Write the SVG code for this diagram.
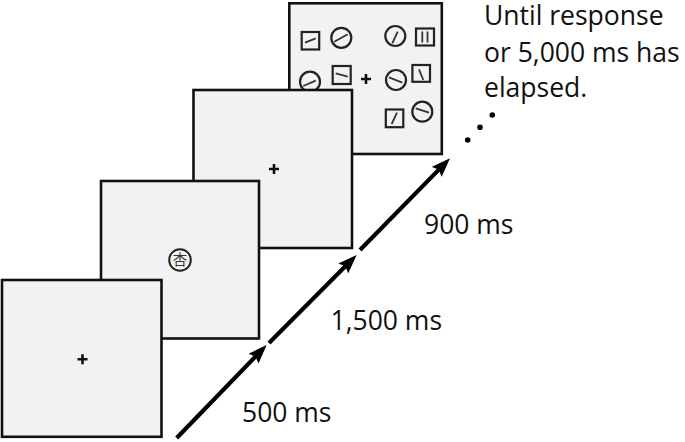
<svg xmlns="http://www.w3.org/2000/svg" width="685" height="442" viewBox="0 0 685 442">
<defs>
<style>
.screen{fill:#f2f2f2;stroke:#111;stroke-width:2.6}
.fix{stroke:#111;stroke-width:2.6;fill:none}
.item{fill:none;stroke:#222;stroke-width:2.2}
.bar{stroke:#333;stroke-width:1.8;fill:none}
.arrow{stroke:#000;stroke-width:4.2;fill:none}
.lbl{font-family:"Open Sans","Liberation Sans",sans-serif;font-size:26.5px;fill:#111}
</style>
<marker id="ah" markerUnits="userSpaceOnUse" viewBox="0 0 20 14" refX="9" refY="7" markerWidth="20" markerHeight="14" orient="auto">
<path d="M0,0 L19,7 L0,14 L3,7 z" fill="#000"/>
</marker>
</defs>
<g id="screen4">
<rect class="screen" x="289.3" y="3.3" width="152.5" height="150.7"/>
<rect class="item" x="301.7" y="32" width="17.5" height="17.5"/><line class="bar" x1="305" y1="42.7" x2="315.7" y2="38.3"/>
<circle class="item" cx="341.3" cy="37.8" r="10"/><line class="bar" x1="334.3" y1="41.7" x2="347.7" y2="34.3"/>
<circle class="item" cx="395.3" cy="36" r="10"/><line class="bar" x1="392.3" y1="43.3" x2="397.7" y2="31.7"/>
<rect class="item" x="416" y="28.5" width="18" height="17"/><line class="bar" x1="422.3" y1="31.5" x2="422.3" y2="42.5"/><line class="bar" x1="427.5" y1="31.5" x2="427.5" y2="42.5"/>
<circle class="item" cx="310" cy="81.7" r="10"/><line class="bar" x1="303.3" y1="86" x2="315.7" y2="80.7"/>
<rect class="item" x="332.7" y="66" width="18" height="18"/><line class="bar" x1="335.7" y1="73.3" x2="347.7" y2="76.7"/>
<path class="fix" d="M361,79 h10 M366,74 v10"/>
<circle class="item" cx="396" cy="80" r="10"/><line class="bar" x1="389" y1="77.3" x2="402.3" y2="82.7"/>
<rect class="item" x="412.4" y="65" width="17.6" height="16.8"/><line class="bar" x1="419" y1="69.3" x2="423.3" y2="80"/>
<rect class="item" x="385.8" y="109.5" width="17.5" height="17.7"/><line class="bar" x1="391.7" y1="124" x2="397" y2="112.7"/>
<circle class="item" cx="422.3" cy="111.7" r="10"/><line class="bar" x1="415.7" y1="108.3" x2="429" y2="112.7"/>
</g>
<g id="screen3">
<rect class="screen" x="193.5" y="90" width="158.5" height="158"/>
<path class="fix" d="M269,169 h10 M274,164 v10"/>
</g>
<g id="screen2">
<rect class="screen" x="101" y="181" width="158" height="157.5"/>
<circle cx="180" cy="260" r="10.8" fill="none" stroke="#222" stroke-width="2"/>
<text x="180" y="265.3" text-anchor="middle" font-family="'Noto Sans CJK SC','Noto Sans CJK JP',sans-serif" font-size="14.5" fill="#333">杏</text>
</g>
<g id="screen1">
<rect class="screen" x="2" y="280" width="159.5" height="156.8"/>
<path class="fix" d="M77.5,359.3 h10 M82.5,354.3 v10"/>
</g>
<g id="connectors">
<line class="arrow" x1="176.7" y1="438" x2="259.7" y2="352.2" marker-end="url(#ah)"/>
<line class="arrow" x1="269" y1="343" x2="349.6" y2="262.1" marker-end="url(#ah)"/>
<line class="arrow" x1="360" y1="250" x2="443" y2="165.4" marker-end="url(#ah)"/>
</g>
<g id="dots" fill="#000">
<circle cx="467.7" cy="140" r="2.8"/>
<circle cx="480" cy="127.3" r="2.8"/>
<circle cx="492.3" cy="115" r="2.8"/>
</g>
<g id="labels">
<text class="lbl" x="242" y="422.3">500 ms</text>
<text class="lbl" x="330.5" y="329.5">1,500 ms</text>
<text class="lbl" x="424" y="233.5">900 ms</text>
<text class="lbl" x="484"><tspan x="484" y="25">Until response</tspan><tspan x="484" y="61.5">or 5,000 ms has</tspan><tspan x="484" y="97.3">elapsed.</tspan></text>
</g>
</svg>
